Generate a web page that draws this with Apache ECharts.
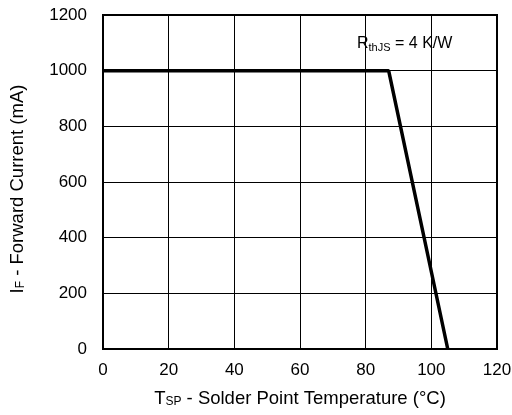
<!DOCTYPE html>
<html><head><meta charset="utf-8">
<script src="https://cdn.jsdelivr.net/npm/echarts@6/dist/echarts.min.js"></script>
<style>html,body{margin:0;padding:0;background:#fff}#c{width:512px;height:415px}</style>
</head><body><div id="c"></div>
<script>
const temps = [0, 87, 105];
const currents = [1000, 1000, 0];
const xTicks = [0, 20, 40, 60, 80, 100, 120];
const yTicks = [0, 200, 400, 600, 800, 1000, 1200];

const chart = echarts.init(document.getElementById('c'));
const font = 'Liberation Sans, Arial, sans-serif';
chart.setOption({
  animation: false,
  grid: {left: 103, right: 15, top: 15, bottom: 66, show: true, borderColor: '#000', borderWidth: 2,
         containLabel: false, outerBoundsMode: 'none'},
  xAxis: {
    type: 'value', min: xTicks[0], max: xTicks[xTicks.length-1], interval: 20,
    axisLine: {show: true, lineStyle: {color: '#000', width: 2}},
    axisTick: {show: false},
    splitLine: {show: true, lineStyle: {color: '#000', width: 1}},
    axisLabel: {color: '#000', fontSize: 17, fontFamily: font, margin: 13, formatter: v => String(v)},
    name: '{a|T}{s|SP}{a| - Solder Point Temperature (°C)}',
    nameLocation: 'middle', nameGap: 40,
    nameTextStyle: {rich: {
      a: {fontSize: 18.5, fontFamily: font, color: '#000'},
      s: {fontSize: 12, fontFamily: font, color: '#000', verticalAlign: 'bottom', padding: [7,0,0,0]}
    }}
  },
  yAxis: {
    type: 'value', min: yTicks[0], max: yTicks[yTicks.length-1], interval: 200,
    axisLine: {show: true, lineStyle: {color: '#000', width: 2}},
    axisTick: {show: false},
    splitLine: {show: true, lineStyle: {color: '#000', width: 1}},
    axisLabel: {color: '#000', fontSize: 17, fontFamily: font, margin: 16, formatter: v => String(v)},
    name: '{a|I}{s|F}{a| - Forward Current (mA)}',
    nameLocation: 'middle', nameGap: 76, nameRotate: 90,
    nameTextStyle: {padding: [0, 14, 0, 0], rich: {
      a: {fontSize: 18.5, fontFamily: font, color: '#000'},
      s: {fontSize: 12, fontFamily: font, color: '#000', verticalAlign: 'bottom', padding: [7,0,0,0]}
    }}
  },
  graphic: [{
    type: 'text', left: 357, top: 36,
    style: {
      text: '{a|R}{s|thJS}{a| = 4 K/W}',
      rich: {
        a: {fontSize: 16, fontFamily: font, fill: '#000'},
        s: {fontSize: 11, fontFamily: font, fill: '#000', verticalAlign: 'bottom', padding: [7,0,0,0]}
      }
    }
  }],
  series: [{
    type: 'line', data: temps.map((t, i) => [t, currents[i]]),
    showSymbol: false, lineStyle: {color: '#000', width: 3.5}, z: 5
  }]
});
</script></body></html>
